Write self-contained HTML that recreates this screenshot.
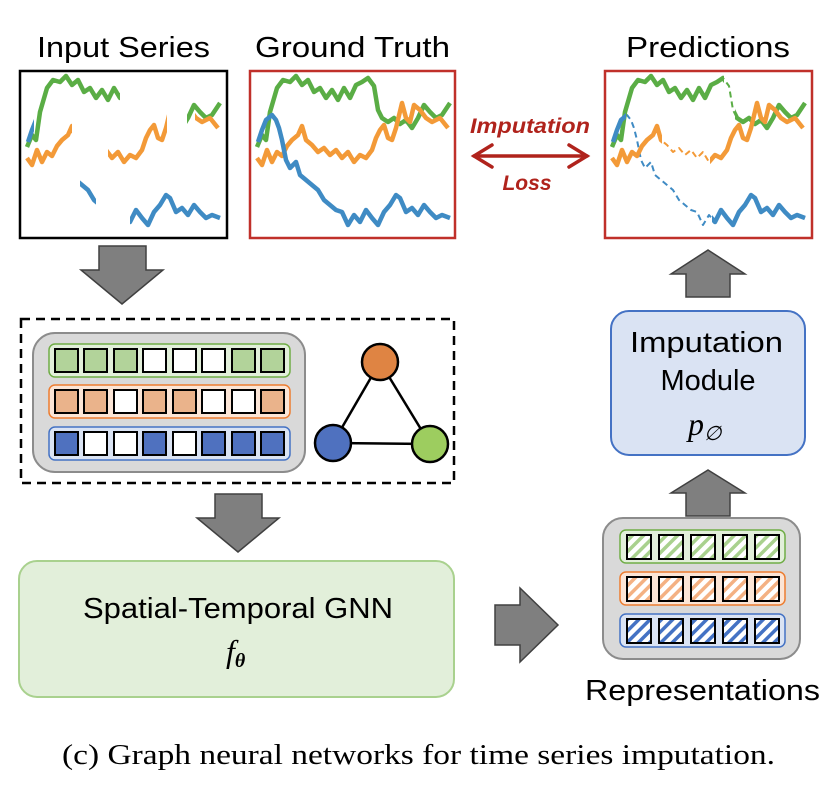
<!DOCTYPE html>
<html><head><meta charset="utf-8"><style>
html,body{margin:0;padding:0;background:#fff}
svg{display:block}
text{font-family:"Liberation Sans","DejaVu Sans",sans-serif}
</style></head><body>
<svg width="838" height="792" viewBox="0 0 838 792" xmlns="http://www.w3.org/2000/svg">
<defs>
<path id="sg" d="M257,147 L262,135 L266,140 L270,112 L277,88 L283,80 L290,82 L296,76 L302,85 L308,80 L314,92 L320,88 L326,98 L332,90 L338,100 L344,88 L350,98 L356,85 L362,82 L368,78 L374,86 L378,110 L382,118 L388,122 L394,118 L400,124 L406,120 L412,128 L418,118 L424,105 L430,112 L436,118 L442,115 L450,103" fill="none" stroke="#5aad45" stroke-linejoin="round"/>
<path id="so" d="M257,158 L262,165 L267,150 L272,162 L277,152 L282,156 L287,146 L292,140 L298,135 L302,126 L306,140 L312,145 L318,152 L324,148 L330,155 L336,150 L342,158 L348,152 L354,162 L360,155 L366,158 L372,150 L376,138 L380,130 L384,125 L388,138 L392,140 L396,128 L402,103 L406,118 L410,122 L414,105 L420,110 L426,118 L432,122 L440,118 L448,128" fill="none" stroke="#f39a38" stroke-linejoin="round"/>
<path id="sb" d="M258,142 L262,130 L266,120 L272,115 L276,120 L279,128 L282,140 L286,160 L290,168 L296,162 L300,175 L306,180 L312,185 L318,190 L324,200 L330,205 L336,210 L342,212 L348,225 L354,215 L360,222 L366,210 L372,218 L378,225 L384,212 L390,205 L396,195 L400,198 L406,212 L412,208 L418,215 L424,205 L430,212 L436,218 L442,215 L450,218" fill="none" stroke="#3f8bc4" stroke-linejoin="round"/>
<clipPath id="cg1"><rect x="19" y="70" width="101" height="170"/><rect x="187" y="70" width="41" height="170"/></clipPath>
<clipPath id="co1"><rect x="19" y="70" width="53" height="170"/><rect x="108" y="70" width="59" height="170"/><rect x="195" y="70" width="33" height="170"/></clipPath>
<clipPath id="cb1"><rect x="19" y="70" width="15" height="170"/><rect x="80" y="70" width="16" height="170"/><rect x="130" y="70" width="98" height="170"/></clipPath>
<clipPath id="cg2"><rect x="604" y="70" width="120" height="170"/><rect x="735" y="70" width="78" height="170"/></clipPath>
<clipPath id="co2"><rect x="604" y="70" width="58" height="170"/><rect x="710" y="70" width="103" height="170"/></clipPath>
<clipPath id="cb2"><rect x="604" y="70" width="22" height="170"/><rect x="712" y="70" width="101" height="170"/></clipPath>
<pattern id="hg" width="8" height="8" patternUnits="userSpaceOnUse" patternTransform="rotate(45)"><rect width="8" height="8" fill="#fff"/><rect width="3.5" height="8" fill="#a9d18e"/></pattern>
<pattern id="ho" width="8" height="8" patternUnits="userSpaceOnUse" patternTransform="rotate(45)"><rect width="8" height="8" fill="#fff"/><rect width="3.5" height="8" fill="#f4b183"/></pattern>
<pattern id="hb" width="8" height="8" patternUnits="userSpaceOnUse" patternTransform="rotate(45)"><rect width="8" height="8" fill="#fff"/><rect width="3.5" height="8" fill="#4472c4"/></pattern>
</defs>

<text x="37" y="57" font-size="29" textLength="173" lengthAdjust="spacingAndGlyphs">Input Series</text>
<text x="255" y="57" font-size="29" textLength="195" lengthAdjust="spacingAndGlyphs">Ground Truth</text>
<text x="626" y="57" font-size="29" textLength="164" lengthAdjust="spacingAndGlyphs">Predictions</text>

<rect x="20" y="71" width="207" height="167" fill="#fff" stroke="#000" stroke-width="2.5"/>
<rect x="250" y="71" width="205" height="167" fill="#fff" stroke="#c0302a" stroke-width="2.5"/>
<rect x="605" y="71" width="207" height="167" fill="#fff" stroke="#c0302a" stroke-width="2.5"/>

<use href="#sg" stroke-width="4.5"/>
<use href="#so" stroke-width="4.5"/>
<use href="#sb" stroke-width="4.5"/>

<g clip-path="url(#cg1)"><use href="#sg" stroke-width="4.5" transform="translate(-230,0)"/></g>
<g clip-path="url(#co1)"><use href="#so" stroke-width="4.5" transform="translate(-230,0)"/></g>
<g clip-path="url(#cb1)"><use href="#sb" stroke-width="4.5" transform="translate(-230,0)"/></g>

<use href="#sg" stroke-width="2" stroke-dasharray="6 4" transform="translate(355,0)"/>
<use href="#so" stroke-width="2" stroke-dasharray="6 4" transform="translate(355,0)"/>
<use href="#sb" stroke-width="2" stroke-dasharray="6 4" transform="translate(355,0)"/>
<g clip-path="url(#cg2)"><use href="#sg" stroke-width="4.5" transform="translate(355,0)"/></g>
<g clip-path="url(#co2)"><use href="#so" stroke-width="4.5" transform="translate(355,0)"/></g>
<g clip-path="url(#cb2)"><use href="#sb" stroke-width="4.5" transform="translate(355,0)"/></g>

<text x="470" y="133" font-size="21" font-weight="bold" font-style="italic" fill="#b0231c" textLength="120" lengthAdjust="spacingAndGlyphs">Imputation</text>
<text x="527" y="190" font-size="21" font-weight="bold" font-style="italic" fill="#b0231c" text-anchor="middle">Loss</text>
<g stroke="#b0231c" stroke-width="3.5" fill="none" stroke-linecap="round">
<line x1="474" y1="156" x2="587" y2="156"/>
<polyline points="492,145 474,156 492,167"/>
<polyline points="569,145 587,156 569,167"/>
</g>

<g fill="#7f7f7f" stroke="#404040" stroke-width="1.5">
<polygon points="99,246 146,246 146,270 163,270 122,304 81,270 99,270"/>
<polygon points="215,494 262,494 262,518 279,518 238,552 197,518 215,518"/>
<polygon points="495,605 520,605 520,588 558,625 520,662 520,645 495,645"/>
<polygon points="686,516 730,516 730,493 745,493 708,470 671,493 686,493"/>
<polygon points="686,297 730,297 730,274 745,274 708,250 671,274 686,274"/>
</g>

<rect x="21" y="319" width="433" height="164" fill="none" stroke="#000" stroke-width="2.5" stroke-dasharray="9 6"/>
<rect x="33" y="333" width="272" height="139" rx="22" fill="#d9d9d9" stroke="#8c8c8c" stroke-width="2"/>
<rect x="49" y="344" width="241" height="33" rx="6" fill="#e2efda" stroke="#70ad47" stroke-width="1.5"/>
<rect x="49" y="385" width="241" height="33" rx="6" fill="#fbe5d6" stroke="#ed7d31" stroke-width="1.5"/>
<rect x="49" y="427" width="241" height="33" rx="6" fill="#dae3f3" stroke="#4472c4" stroke-width="1.5"/>
<g stroke="#000" stroke-width="2">
<rect x="55" y="349" width="23" height="23" fill="#b2d39a"/><rect x="84" y="349" width="23" height="23" fill="#b2d39a"/><rect x="114" y="349" width="23" height="23" fill="#b2d39a"/><rect x="143" y="349" width="23" height="23" fill="#fff"/><rect x="173" y="349" width="23" height="23" fill="#fff"/><rect x="202" y="349" width="23" height="23" fill="#fff"/><rect x="232" y="349" width="23" height="23" fill="#b2d39a"/><rect x="261" y="349" width="23" height="23" fill="#b2d39a"/>
<rect x="55" y="390" width="23" height="23" fill="#eab38b"/><rect x="84" y="390" width="23" height="23" fill="#eab38b"/><rect x="114" y="390" width="23" height="23" fill="#fff"/><rect x="143" y="390" width="23" height="23" fill="#eab38b"/><rect x="173" y="390" width="23" height="23" fill="#eab38b"/><rect x="202" y="390" width="23" height="23" fill="#fff"/><rect x="232" y="390" width="23" height="23" fill="#fff"/><rect x="261" y="390" width="23" height="23" fill="#eab38b"/>
<rect x="55" y="432" width="23" height="23" fill="#4f71bf"/><rect x="84" y="432" width="23" height="23" fill="#fff"/><rect x="114" y="432" width="23" height="23" fill="#fff"/><rect x="143" y="432" width="23" height="23" fill="#4f71bf"/><rect x="173" y="432" width="23" height="23" fill="#fff"/><rect x="202" y="432" width="23" height="23" fill="#4f71bf"/><rect x="232" y="432" width="23" height="23" fill="#4f71bf"/><rect x="261" y="432" width="23" height="23" fill="#4f71bf"/>
</g>
<g stroke="#000" stroke-width="2.5">
<line x1="380" y1="362" x2="333" y2="443"/><line x1="380" y1="362" x2="430" y2="444"/><line x1="333" y1="443" x2="430" y2="444"/>
<circle cx="380" cy="362" r="18" fill="#df8443"/>
<circle cx="333" cy="443" r="18" fill="#4f71bf"/>
<circle cx="430" cy="444" r="18" fill="#9dcd5f"/>
</g>

<rect x="19" y="561" width="435" height="136" rx="18" fill="#e2efda" stroke="#a9d18e" stroke-width="2"/>
<text x="83" y="618" font-size="29" textLength="310" lengthAdjust="spacingAndGlyphs">Spatial-Temporal GNN</text>
<text x="226" y="662" font-size="32" font-style="italic" font-family="Liberation Serif, serif" style="font-family:'Liberation Serif',serif">f<tspan font-size="20" dy="5" font-weight="bold">θ</tspan></text>

<rect x="611" y="311" width="194" height="144" rx="18" fill="#dae3f3" stroke="#4472c4" stroke-width="2"/>
<text x="630" y="352" font-size="29" textLength="153" lengthAdjust="spacingAndGlyphs">Imputation</text>
<text x="708" y="390" font-size="29" text-anchor="middle">Module</text>
<text x="688" y="435" font-size="32" font-style="italic" font-family="Liberation Serif, serif" style="font-family:'Liberation Serif',serif">p<tspan font-size="20" dy="5">∅</tspan></text>

<rect x="603" y="518" width="197" height="141" rx="20" fill="#d9d9d9" stroke="#8c8c8c" stroke-width="2"/>
<rect x="620" y="530" width="165" height="33" rx="6" fill="#e2efda" stroke="#70ad47" stroke-width="1.5"/>
<rect x="620" y="572" width="165" height="33" rx="6" fill="#fbe5d6" stroke="#ed7d31" stroke-width="1.5"/>
<rect x="620" y="614" width="165" height="33" rx="6" fill="#dae3f3" stroke="#4472c4" stroke-width="1.5"/>
<g stroke="#000" stroke-width="2">
<rect x="627" y="535" width="24" height="24" fill="url(#hg)"/><rect x="659" y="535" width="24" height="24" fill="url(#hg)"/><rect x="691" y="535" width="24" height="24" fill="url(#hg)"/><rect x="723" y="535" width="24" height="24" fill="url(#hg)"/><rect x="755" y="535" width="24" height="24" fill="url(#hg)"/>
<rect x="627" y="577" width="24" height="24" fill="url(#ho)"/><rect x="659" y="577" width="24" height="24" fill="url(#ho)"/><rect x="691" y="577" width="24" height="24" fill="url(#ho)"/><rect x="723" y="577" width="24" height="24" fill="url(#ho)"/><rect x="755" y="577" width="24" height="24" fill="url(#ho)"/>
<rect x="627" y="619" width="24" height="24" fill="url(#hb)"/><rect x="659" y="619" width="24" height="24" fill="url(#hb)"/><rect x="691" y="619" width="24" height="24" fill="url(#hb)"/><rect x="723" y="619" width="24" height="24" fill="url(#hb)"/><rect x="755" y="619" width="24" height="24" fill="url(#hb)"/>
</g>
<text x="585" y="700" font-size="29" textLength="235" lengthAdjust="spacingAndGlyphs">Representations</text>

<text x="62" y="764" font-size="28" textLength="713" lengthAdjust="spacingAndGlyphs" style="font-family:'Liberation Serif',serif">(c) Graph neural networks for time series imputation.</text>
</svg>
</body></html>
